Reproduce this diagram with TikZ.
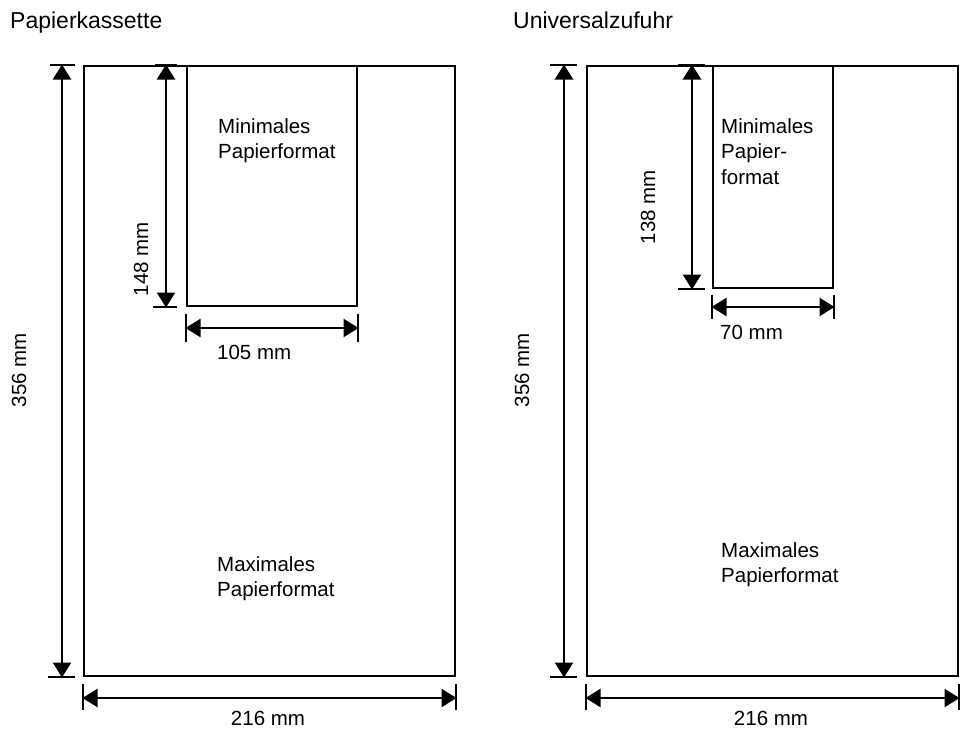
\documentclass[tikz,border=0pt]{standalone}
\usepackage{fontspec}
\setmainfont{Liberation Sans}
\usetikzlibrary{arrows.meta}
\begin{document}
\begin{tikzpicture}[x=1pt,y=-1pt,
  paper/.style={draw, line width=2pt, inner sep=0pt, anchor=north west},
  dimline/.style={line width=2.4pt, {Triangle[length=15pt,width=18pt]}-{Triangle[length=15pt,width=18pt]}, shorten <=-0.5pt, shorten >=-0.5pt},
  tickline/.style={line width=1.6pt},
  lbl/.style={font=\fontsize{20.5}{25}\selectfont, inner sep=0pt, anchor=base west},
  rlbl/.style={font=\fontsize{20.5}{25}\selectfont, inner sep=0pt, anchor=base, rotate=90},
  blbl/.style={font=\fontsize{20.5}{25}\selectfont, inner sep=0pt, anchor=base},
  ttl/.style={font=\fontsize{23}{26}\selectfont, inner sep=0pt, anchor=base west}
]
\useasboundingbox (0,0) rectangle (965,729);

% ---------------- left panel ----------------
\node[ttl] (tA) at (10,28) {Papierkassette};
\node[paper, minimum width=371pt, minimum height=610pt] (maxA) at (83,65) {};
\node[paper, minimum width=170pt, minimum height=240pt] (minA) at (186,65) {};

% 356 mm
\draw[tickline] ([xshift=-33pt]maxA.north west) -- ([xshift=-8pt]maxA.north west);
\draw[tickline] ([xshift=-35pt]maxA.south west) -- ([xshift=-8pt]maxA.south west);
\draw[dimline] ([xshift=-21pt]maxA.north west) -- ([xshift=-21pt]maxA.south west);
\node[rlbl] (hA) at (26,370) {356 mm};

% 216 mm
\draw[tickline] ([yshift=-7pt]maxA.south west) -- ([yshift=-33pt]maxA.south west);
\draw[tickline] ([yshift=-7pt]maxA.south east) -- ([yshift=-33pt]maxA.south east);
\draw[dimline] ([yshift=-21pt]maxA.south west) -- ([yshift=-21pt]maxA.south east);
\node[blbl] (wA) at (268,725) {216 mm};

% 148 mm
\draw[tickline] ([xshift=-31pt]minA.north west) -- ([xshift=-9pt]minA.north west);
\draw[tickline] ([xshift=-33pt]minA.south west) -- ([xshift=-9pt]minA.south west);
\draw[dimline] ([xshift=-20pt]minA.north west) -- ([xshift=-20pt]minA.south west);
\node[rlbl] (hmA) at (148,259) {148 mm};

% 105 mm
\draw[tickline] ([yshift=-7pt]minA.south west) -- ([yshift=-35pt]minA.south west);
\draw[tickline] ([yshift=-7pt]minA.south east) -- ([yshift=-35pt]minA.south east);
\draw[dimline] ([yshift=-21pt]minA.south west) -- ([yshift=-21pt]minA.south east);
\node[lbl] (wmA) at (217,359) {105 mm};

\node[lbl] (minA1) at (218,133) {Minimales};
\node[lbl] (minA2) at (218,158) {Papierformat};
\node[lbl] (maxA1) at (217,571) {Maximales};
\node[lbl] (maxA2) at (217,596) {Papierformat};

% ---------------- right panel ----------------
\node[ttl] (tB) at (513,28) {Universalzufuhr};
\node[paper, minimum width=371pt, minimum height=610pt] (maxB) at (586,65) {};
\node[paper, minimum width=120pt, minimum height=222pt] (minB) at (712,65) {};

% 356 mm
\draw[tickline] ([xshift=-36pt]maxB.north west) -- ([xshift=-9pt]maxB.north west);
\draw[tickline] ([xshift=-36pt]maxB.south west) -- ([xshift=-9pt]maxB.south west);
\draw[dimline] ([xshift=-22pt]maxB.north west) -- ([xshift=-22pt]maxB.south west);
\node[rlbl] (hB) at (529,370) {356 mm};

% 216 mm
\draw[tickline] ([yshift=-7pt]maxB.south west) -- ([yshift=-33pt]maxB.south west);
\draw[tickline] ([yshift=-7pt]maxB.south east) -- ([yshift=-33pt]maxB.south east);
\draw[dimline] ([yshift=-21pt]maxB.south west) -- ([yshift=-21pt]maxB.south east);
\node[blbl] (wB) at (771,725) {216 mm};

% 138 mm
\draw[tickline] ([xshift=-34pt]minB.north west) -- ([xshift=-7pt]minB.north west);
\draw[tickline] ([xshift=-34pt]minB.south west) -- ([xshift=-7pt]minB.south west);
\draw[dimline] ([xshift=-20pt]minB.north west) -- ([xshift=-20pt]minB.south west);
\node[rlbl] (hmB) at (655,207) {138 mm};

% 70 mm
\draw[tickline] ([yshift=-6pt]minB.south west) -- ([yshift=-30pt]minB.south west);
\draw[tickline] ([yshift=-6pt]minB.south east) -- ([yshift=-30pt]minB.south east);
\draw[dimline] ([yshift=-18pt]minB.south west) -- ([yshift=-18pt]minB.south east);
\node[lbl] (wmB) at (720,339) {70 mm};

\node[lbl] (minB1) at (721,133) {Minimales};
\node[lbl] (minB2) at (721,158) {Papier-};
\node[lbl] (minB3) at (721,184) {format};
\node[lbl] (maxB1) at (721,557) {Maximales};
\node[lbl] (maxB2) at (721,582) {Papierformat};
\end{tikzpicture}
\end{document}
